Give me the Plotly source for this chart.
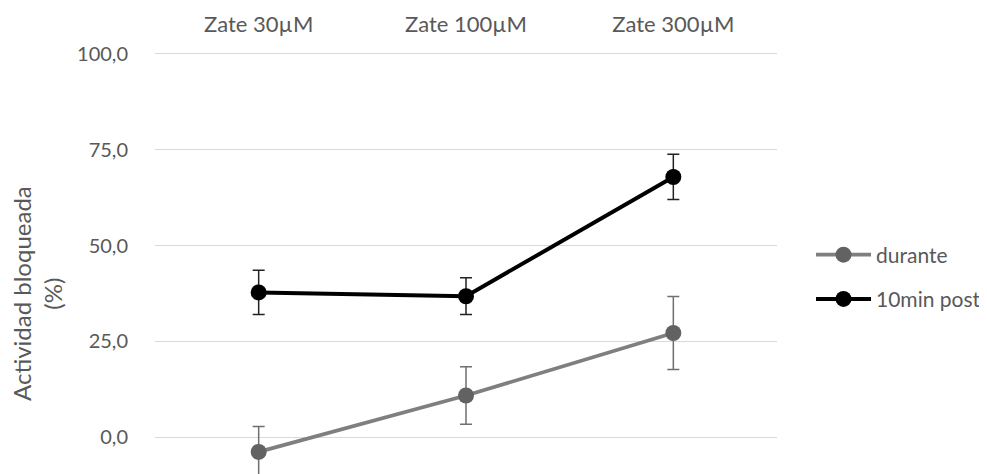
import plotly.graph_objects as go

categories = ["Zate 30µM", "Zate 100µM", "Zate 300µM"]
durante = [-3.8, 10.9, 27.2]
durante_err = [6.6, 7.5, 9.5]
post = [37.8, 36.8, 67.9]
post_err = [5.8, 4.8, 5.9]
y_ticks = [0, 25, 50, 75, 100]

FONT = "Lato"
TXT = "#595959"

# page body has an 8px margin; figure is sized to fill the rest of the window
OFF = 8
W, H = 987 - OFF, 474 - OFF
PL, PR, PT = 155, 777, 52          # plot area in window pixels
PW = PR - PL
PH = 474 - PT

fig = go.Figure()
fig.add_trace(go.Scatter(
    x=categories, y=durante, name="durante", mode="lines+markers",
    line=dict(color="#7f7f7f", width=3.8),
    marker=dict(color="#626262", size=16),
    error_y=dict(type="data", array=durante_err, color="#6f6f6f", thickness=1.5, width=6),
    legendgroup="a", cliponaxis=True,
))
fig.add_trace(go.Scatter(
    x=categories, y=post, name="10min post", mode="lines+markers",
    line=dict(color="#000000", width=4),
    marker=dict(color="#000000", size=16),
    error_y=dict(type="data", array=post_err, color="#222222", thickness=1.5, width=6),
    legendgroup="b", cliponaxis=True,
))

fig.update_layout(
    width=W, height=H,
    margin=dict(l=PL - OFF, r=987 - PR, t=PT - OFF, b=0, autoexpand=False),
    paper_bgcolor="white", plot_bgcolor="white",
    font=dict(family=FONT, color=TXT, size=22),
    separators=", ",
    showlegend=True,
    legend=dict(x=1 + 34 / PW, xanchor="left", y=(474 - 277) / PH, yanchor="middle",
                font=dict(size=21, color=TXT), tracegroupgap=14,
                itemwidth=55, bgcolor="rgba(0,0,0,0)"),
    xaxis=dict(side="top", type="category", range=[-0.5, 2.5], automargin=False,
               showgrid=False, zeroline=False, showline=False, ticks="",
               tickfont=dict(size=22, color=TXT), ticklabelstandoff=15),
    yaxis=dict(range=[-9.57, 100.5], tickvals=y_ticks, tickformat=".1f", automargin=False,
               showgrid=True, gridcolor="#d9d9d9", gridwidth=1,
               zeroline=False, showline=False, ticks="",
               tickfont=dict(size=20, color=TXT), ticklabelstandoff=26),
    annotations=[dict(text="Actividad bloqueada<br>(%)", xref="paper", yref="paper",
                      x=(37 - PL) / PW, y=(474 - 294) / PH, xanchor="center", yanchor="middle",
                      textangle=-90, showarrow=False,
                      font=dict(size=24, color=TXT, family=FONT))],
)

fig.write_html("out.html")
